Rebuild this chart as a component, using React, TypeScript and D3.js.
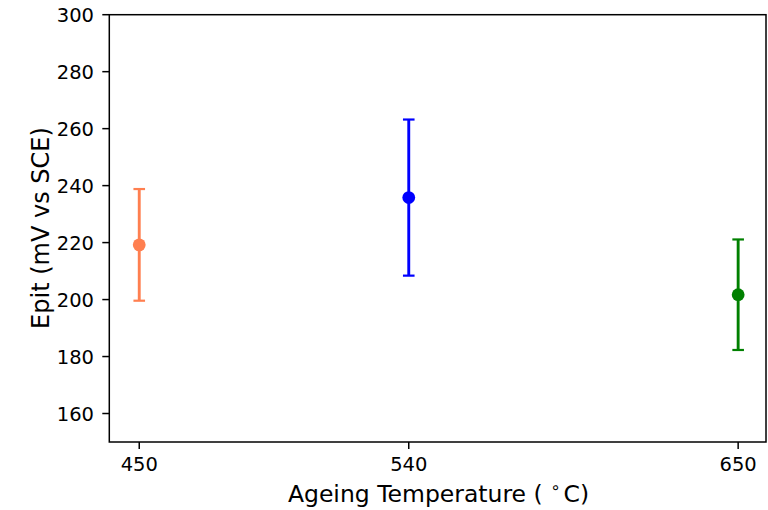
import React from "react";
import * as d3 from "d3";

const temps = [450, 540, 650];
const means = [219.2, 235.8, 201.7];
const errors = [19.6, 27.4, 19.4];
const colors = ["#ff7f50", "#0000ff", "#008000"];
const xTicks = [450, 540, 650];
const yTicks = [160, 180, 200, 220, 240, 260, 280, 300];

const W = 768;
const H = 510;
const FONT = "DejaVu Sans, sans-serif";

export default function App() {
  const x = d3.scaleLinear().domain([440, 659.3]).range([109.3, 766]);
  const y = d3.scaleLinear().domain([150, 300]).range([442, 14.7]);
  const [x0, x1] = x.range();
  const [y0, y1] = y.range();
  const tickLen = 7;
  const cap = 5.8;

  return (
    <svg
      width={W}
      height={H}
      style={{ position: "absolute", left: 0, top: 0, background: "#fff" }}
      fontFamily={FONT}
    >
      <rect x={0} y={0} width={W} height={H} fill="#fff" />
      {/* data */}
      {temps.map((t, i) => {
        const cx = x(t);
        const top = y(means[i] + errors[i]);
        const bot = y(means[i] - errors[i]);
        return (
          <g key={t} stroke={colors[i]} fill={colors[i]}>
            <line x1={cx} x2={cx} y1={top} y2={bot} strokeWidth={2.9} />
            <line x1={cx - cap} x2={cx + cap} y1={top} y2={top} strokeWidth={2.2} />
            <line x1={cx - cap} x2={cx + cap} y1={bot} y2={bot} strokeWidth={2.2} />
            <circle cx={cx} cy={y(means[i])} r={6.4} stroke="none" />
          </g>
        );
      })}
      {/* frame */}
      <rect
        x={x0}
        y={y1}
        width={x1 - x0}
        height={y0 - y1}
        fill="none"
        stroke="#000"
        strokeWidth={1.5}
      />
      {/* y ticks */}
      {yTicks.map((v) => (
        <g key={v}>
          <line x1={x0 - tickLen} x2={x0} y1={y(v)} y2={y(v)} stroke="#000" strokeWidth={1.5} />
          <text
            x={94}
            y={y(v)}
            dy="0.36em"
            textAnchor="end"
            fontSize={19.5}
            fill="#000"
          >
            {v}
          </text>
        </g>
      ))}
      {/* x ticks */}
      {xTicks.map((v) => (
        <g key={v}>
          <line x1={x(v)} x2={x(v)} y1={y0} y2={y0 + tickLen} stroke="#000" strokeWidth={1.5} />
          <text x={x(v)} y={471} textAnchor="middle" fontSize={19.5} fill="#000">
            {v}
          </text>
        </g>
      ))}
      {/* axis labels */}
      <text x={438.5} y={502} textAnchor="middle" fontSize={23.5} fill="#000">
        {"Ageing Temperature ( "}
        <tspan fontSize={16.5} dy={-9.5}>∘</tspan>
        <tspan dy={9.5} dx={3}>C)</tspan>
      </text>
      <text
        transform={`translate(48.5,228) rotate(-90)`}
        textAnchor="middle"
        fontSize={24}
        fill="#000"
      >
        Epit (mV vs SCE)
      </text>
    </svg>
  );
}
